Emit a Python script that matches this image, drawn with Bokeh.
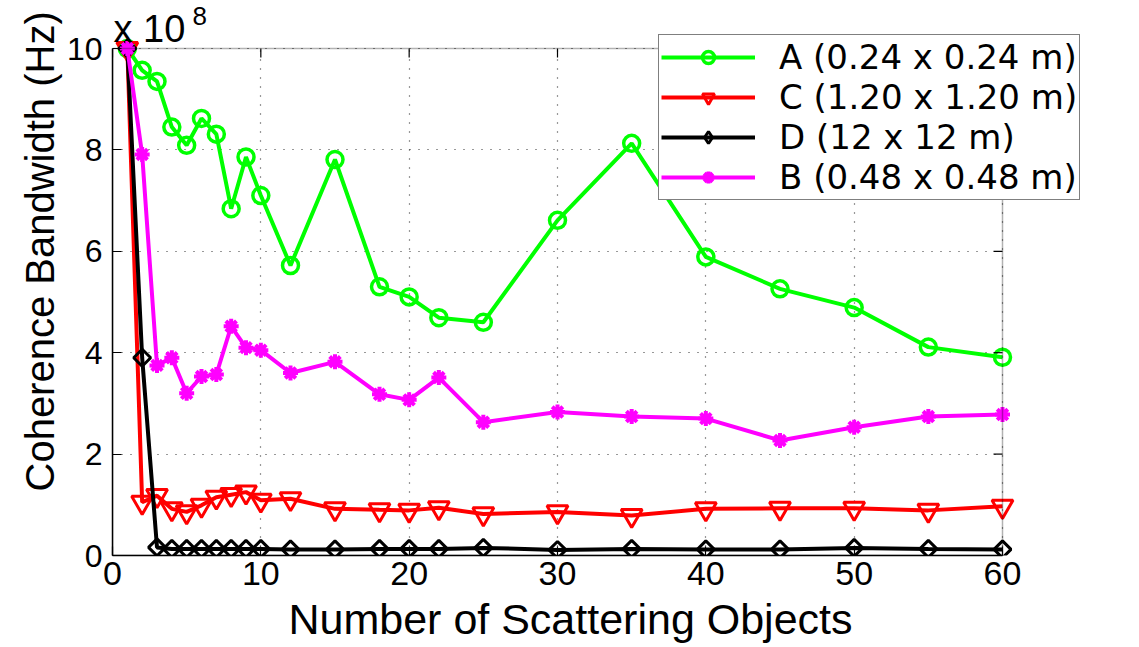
import math
from bokeh.plotting import figure
from bokeh.models import (Legend, LegendItem, Label, FixedTicker, Range1d,
                          ColumnDataSource, BoxAnnotation, Title)
from bokeh.embed import file_html
from bokeh.resources import INLINE

# ---- data (coherence bandwidth in units of 1e8 Hz) ----
n_objects = [1, 2, 3, 4, 5, 6, 7, 8, 9, 10, 12, 15, 18, 20, 22, 25, 30, 35, 40, 45, 50, 55, 60]
bw_A = [10.0, 9.57, 9.35, 8.45, 8.09, 8.62, 8.31, 6.84, 7.86, 7.10, 5.72, 7.81, 5.30, 5.10,
        4.69, 4.60, 6.61, 8.13, 5.89, 5.26, 4.89, 4.11, 3.91]
bw_C = [10.0, 1.05, 1.18, 0.92, 0.86, 0.99, 1.15, 1.20, 1.25, 1.09, 1.12, 0.92, 0.90, 0.89,
        0.94, 0.82, 0.86, 0.79, 0.92, 0.93, 0.93, 0.89, 0.97]
bw_D = [10.0, 3.90, 0.16, 0.13, 0.13, 0.13, 0.13, 0.13, 0.13, 0.13, 0.12, 0.12, 0.13, 0.13,
        0.13, 0.15, 0.11, 0.13, 0.12, 0.12, 0.15, 0.13, 0.12]
bw_B = [10.0, 7.91, 3.75, 3.90, 3.20, 3.53, 3.57, 4.52, 4.10, 4.05, 3.60, 3.82, 3.18, 3.07,
        3.51, 2.63, 2.83, 2.74, 2.70, 2.27, 2.53, 2.74, 2.78]
labels = ["A (0.24 x 0.24 m)", "C (1.20 x 1.20 m)", "D (12 x 12 m)", "B (0.48 x 0.48 m)"]
x_ticks = [0, 10, 20, 30, 40, 50, 60]
y_ticks = [0, 2, 4, 6, 8, 10]
x_lim = (0, 60)
y_lim = (0, 10)

FONT = "Liberation Sans"
LEGEND_FONT = "DejaVu Sans"

# layout geometry (pixels)
W, H = 1139, 647
BL, BB = 112, 92               # left / bottom borders
AX_W, AX_H = 890, 507          # width / height of the axes box inside the frame
FW, FH = W - BL, H - BB        # frame extends to right and top edges (room for legend)
x_end = x_lim[1] * FW / AX_W
y_end = y_lim[1] * FH / AX_H

src = ColumnDataSource(dict(x=n_objects, A=bw_A, C=bw_C, D=bw_D, B=bw_B))
# a single undrawable (NaN) point: lets the legend show a key marker without plotting anything
key_src = ColumnDataSource(dict(x=[float("nan")], y=[float("nan")]))

p = figure(width=W, height=H, x_range=Range1d(0, x_end), y_range=Range1d(0, y_end),
           output_backend="svg", toolbar_location=None,
           min_border_left=BL, min_border_right=0, min_border_top=0, min_border_bottom=BB)
p.background_fill_color = "white"
p.border_fill_color = "white"
p.outline_line_color = None

# grid (dotted), limited to the axes box
for g, xb, cb, tk in ((p.xgrid[0], x_lim, y_lim, x_ticks), (p.ygrid[0], y_lim, x_lim, y_ticks)):
    g.grid_line_color = "#333333"
    g.grid_line_dash = "1 8"
    g.grid_line_width = 1.2
    g.ticker = FixedTicker(ticks=tk)
    g.bounds = xb
    try:
        g.cross_bounds = cb
    except AttributeError:
        pass

# key, colour, marker, size, marker line width, marker angle, legend marker, legend size
series = [
    ("A", "#00ff00", "circle", 16, 3.5, 0.0, "circle", 13),
    ("C", "#ff0000", "inverted_triangle", 21, 3, 0.0, "inverted_triangle", 17),
    ("D", "#000000", "square", 12, 3, math.pi / 4, "diamond", 18),
    ("B", "#ff00ff", "asterisk", 15, 4, 0.0, "asterisk", 12),
]
items = []
for (key, color, marker, size, mlw, ang, lmarker, lsize), lab in zip(series, labels):
    r_line = p.line("x", key, source=src, line_color=color, line_width=4)
    p.scatter("x", key, source=src, marker=marker, size=size, angle=ang,
              line_color=color, fill_color=None, line_width=mlw)
    r_key = p.scatter("x", "y", source=key_src, marker=lmarker, size=lsize,
                      line_color=color, fill_color=None, line_width=mlw)
    items.append(LegendItem(label=lab, renderers=[r_line, r_key]))

# axes styling
for ax, b in ((p.xaxis[0], x_lim), (p.yaxis[0], y_lim)):
    ax.bounds = b
    ax.axis_line_color = "black"
    ax.axis_line_width = 1.5
    ax.major_tick_in = 9
    ax.major_tick_out = 0
    ax.minor_tick_line_color = None
    ax.major_tick_line_color = "black"
    ax.major_tick_line_width = 1.2
    ax.major_label_text_font = FONT
    ax.major_label_text_color = "black"

p.xaxis[0].ticker = FixedTicker(ticks=x_ticks)
p.yaxis[0].ticker = FixedTicker(ticks=y_ticks)
p.xaxis[0].major_label_text_font_size = "34px"
p.yaxis[0].major_label_text_font_size = "32px"
p.xaxis[0].major_label_standoff = 6
p.yaxis[0].major_label_standoff = 10

# axis titles, positioned along the axes box
p.add_layout(Title(text="Number of Scattering Objects", align="left", offset=176,
                   text_font=FONT, text_font_size="43px", text_font_style="normal",
                   text_color="black", standoff=10), "below")
p.add_layout(Title(text="Coherence Bandwidth (Hz)", align="left", offset=64,
                   text_font=FONT, text_font_size="40px", text_font_style="normal",
                   text_color="black", standoff=4), "left")

# box around the axes area, with inward ticks on top / right
p.add_layout(BoxAnnotation(left=x_lim[0], right=x_lim[1], bottom=y_lim[0], top=y_lim[1],
                           fill_alpha=0, line_color="black", line_width=1.5))
p.ray(x=x_ticks, y=[y_lim[1]] * len(x_ticks), length=9, length_units="screen",
      angle=-math.pi / 2, line_color="black", line_width=1.2)
p.ray(x=[x_lim[1]] * len(y_ticks), y=y_ticks, length=9, length_units="screen",
      angle=math.pi, line_color="black", line_width=1.2)

# exponent label
p.add_layout(Label(x=0, y=y_lim[1], text="x 10", x_offset=1, y_offset=20,
                   text_font=FONT, text_font_size="38px", text_color="black",
                   text_baseline="alphabetic"))
p.add_layout(Label(x=0, y=y_lim[1], text="8", x_offset=80, y_offset=33,
                   text_font=FONT, text_font_size="26px", text_color="black",
                   text_baseline="alphabetic"))

legend = Legend(items=items, location=(546, 355), orientation="vertical")
legend.label_text_font = LEGEND_FONT
legend.label_text_font_size = "34px"
legend.label_text_color = "black"
legend.glyph_width = 94
legend.glyph_height = 30
legend.label_standoff = 24
legend.spacing = 0
legend.padding = 2
legend.margin = 0
legend.border_line_color = "black"
legend.border_line_width = 1.5
legend.background_fill_color = "white"
legend.background_fill_alpha = 1.0
p.add_layout(legend)

open("out.html", "w").write(file_html(p, INLINE))
